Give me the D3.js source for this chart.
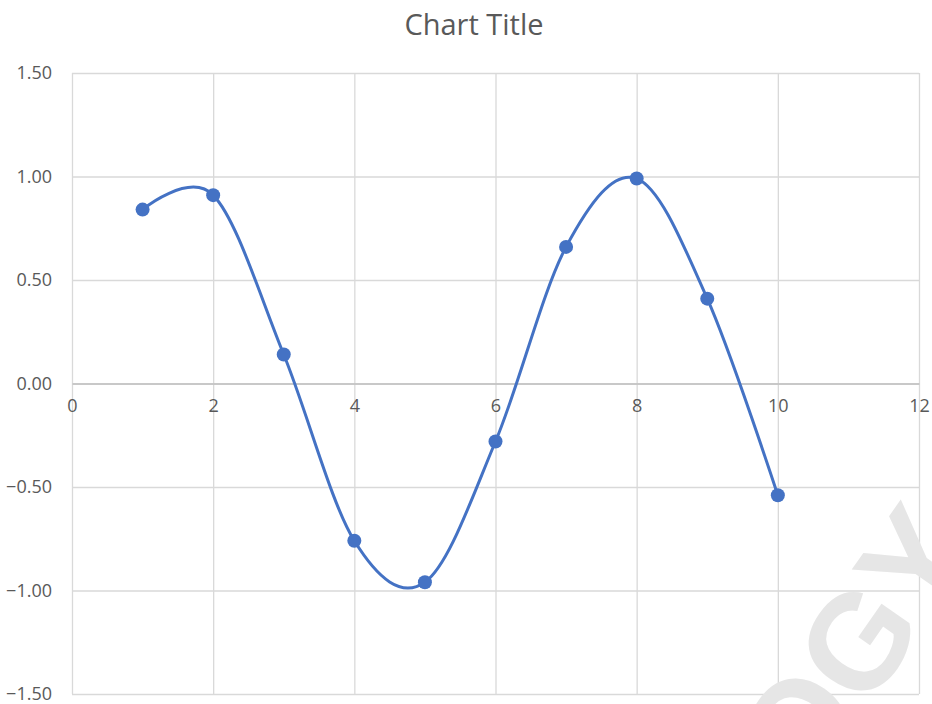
<!DOCTYPE html>
<html>
<head>
<meta charset="utf-8">
<script src="https://cdn.jsdelivr.net/npm/d3@7"></script>
<style>
  html, body { margin: 0; padding: 0; background: #fff; }
  svg { display: block; font-family: "Open Sans", "Noto Sans", sans-serif; }
</style>
</head>
<body>
<svg id="chart" width="932" height="704"></svg>
<script>
// Series data
const xValues = [1, 2, 3, 4, 5, 6, 7, 8, 9, 10];
const yValues = [0.84, 0.91, 0.14, -0.76, -0.96, -0.28, 0.66, 0.99, 0.41, -0.54];

// Axis ticks
const xTicks = [0, 2, 4, 6, 8, 10, 12];
const yTicks = [-1.5, -1.0, -0.5, 0, 0.5, 1.0, 1.5];

const title = "Chart Title";

const svg = d3.select("#chart");
const W = 932, H = 704;
const plot = { left: 72, right: 919, top: 73, bottom: 694 };

const x = d3.scaleLinear().domain([0, 12]).range([plot.left, plot.right]);
const y = d3.scaleLinear().domain([-1.5, 1.5]).range([plot.bottom, plot.top]);

const textColor = "#595959";
const gridColor = "#d9d9d9";
const seriesColor = "#4472c4";

// Title
svg.append("text")
  .attr("x", 474)
  .attr("y", 35)
  .attr("text-anchor", "middle")
  .attr("fill", textColor)
  .style("font-size", "29px")
  .text(title);

// Horizontal gridlines + y labels
const yAxis = d3.axisLeft(y).tickValues(yTicks)
  .tickFormat(d3.format(".2f"))
  .tickSize(-(plot.right - plot.left)).tickPadding(20);
const gy = svg.append("g").attr("transform", `translate(${plot.left},0)`).call(yAxis);
gy.select(".domain").remove();
gy.selectAll(".tick line").attr("stroke", gridColor).attr("stroke-width", 1.3);
gy.selectAll(".tick text").attr("fill", textColor).style("font-size", "18px")
  .attr("font-family", "'Open Sans', sans-serif");

// Vertical gridlines
const xGrid = d3.axisBottom(x).tickValues(xTicks).tickFormat("")
  .tickSize(-(plot.bottom - plot.top));
const gxg = svg.append("g").attr("transform", `translate(0,${plot.bottom})`).call(xGrid);
gxg.select(".domain").remove();
gxg.selectAll(".tick line").attr("stroke", gridColor).attr("stroke-width", 1.3);

// Horizontal axis through zero with labels
const xAxis = d3.axisBottom(x).tickValues(xTicks).tickFormat(d3.format("d"))
  .tickSize(0).tickPadding(16);
const gx = svg.append("g").attr("transform", `translate(0,${y(0)})`).call(xAxis);
gx.select(".domain").attr("stroke", "#bfbfbf").attr("stroke-width", 1.3);
gx.selectAll(".tick text").attr("fill", textColor).style("font-size", "18px")
  .attr("font-family", "'Open Sans', sans-serif");

// Smoothed series line
const pts = xValues.map((d, i) => [d, yValues[i]]);
const line = d3.line()
  .x(d => x(d[0])).y(d => y(d[1]))
  .curve(d3.curveCardinal.tension(0));
svg.append("path")
  .datum(pts)
  .attr("d", line)
  .attr("fill", "none")
  .attr("stroke", seriesColor)
  .attr("stroke-width", 3);

// Markers
svg.append("g").selectAll("circle").data(pts).join("circle")
  .attr("cx", d => x(d[0])).attr("cy", d => y(d[1]))
  .attr("r", 7)
  .attr("fill", seriesColor);

// Faint watermark letters in the lower-right corner
svg.append("text")
  .attr("transform", "translate(892,674) rotate(-55)")
  .attr("text-anchor", "middle")
  .attr("fill", "#e6e6e6")
  .style("font-size", "135px")
  .style("font-weight", "bold")
  .attr("font-family", "'Liberation Sans', Arial, sans-serif")
  .text("OGY");
</script>
</body>
</html>
